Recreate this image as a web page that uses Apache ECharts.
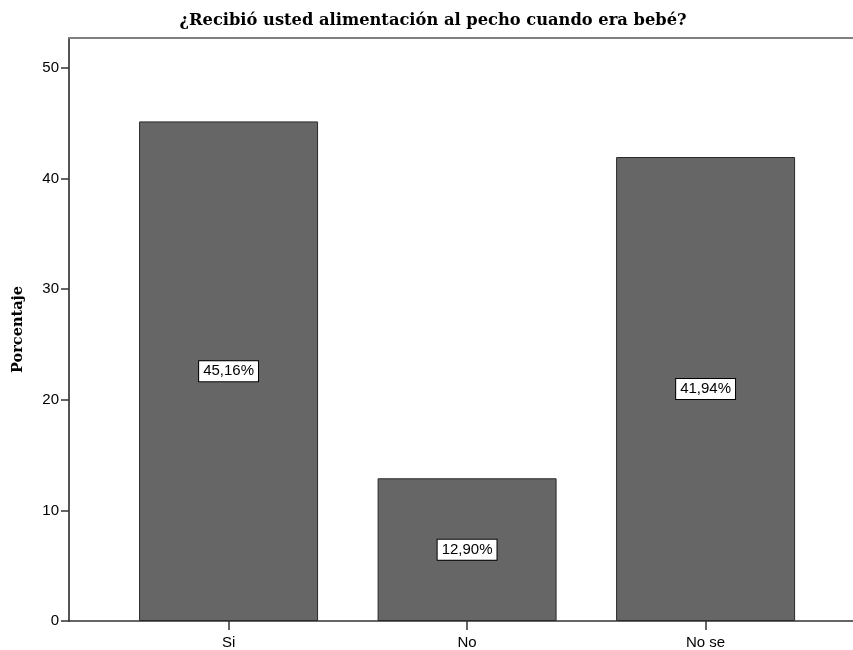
<!DOCTYPE html>
<html><head><meta charset="utf-8">
<script src="https://cdn.jsdelivr.net/npm/echarts@6/dist/echarts.min.js"></script>
<style>html,body{margin:0;padding:0;background:#fff;overflow:hidden}#c{width:853px;height:650px}</style>
</head><body><div id="c"></div>
<script>
const title = "¿Recibió usted alimentación al pecho cuando era bebé?";
const categories = ["Si", "No", "No se"];
const values = [45.16, 12.90, 41.94];
const yTicks = [0, 10, 20, 30, 40, 50];
const yName = "Porcentaje";

const chart = echarts.init(document.getElementById('c'));
const pos = categories.map((c, i) => i + 1);
chart.setOption({
  animation: false,
  title: {text: title, left: 428, textAlign: 'center', top: 8,
    textStyle: {fontFamily: 'DejaVu Serif', fontWeight: 'bold', fontSize: 16.3, color: '#000'}},
  grid: {left: 69, right: 0, top: 38, bottom: 28},
  xAxis: [{type: 'value', min: 0.331, max: 3.618,
    axisLine: {show: true, lineStyle: {color: '#333', width: 1.5}},
    axisTick: {show: true, customValues: pos, length: 9, lineStyle: {color: '#333', width: 1.5}},
    axisLabel: {customValues: pos, formatter: v => categories[Math.round(v) - 1] || '', color: '#000', fontFamily: 'Liberation Sans', fontSize: 15, margin: 14},
    splitLine: {show: false}},
    {type: 'value', position: 'top', min: 0.331, max: 3.618,
    axisLine: {show: true, lineStyle: {color: '#808080', width: 2}},
    axisTick: {show: false}, axisLabel: {show: false}, splitLine: {show: false}}],
  yAxis: {type: 'value', min: 0, max: 52.7, interval: 10, name: yName, nameLocation: 'middle', nameGap: 43,
    nameTextStyle: {fontFamily: 'DejaVu Serif', fontWeight: 'bold', fontSize: 14.5, color: '#000'},
    axisLine: {show: true, lineStyle: {color: '#555', width: 2}},
    axisTick: {show: true, customValues: yTicks, length: 8, lineStyle: {color: '#333', width: 1.5}},
    axisLabel: {customValues: yTicks, color: '#000', fontFamily: 'Liberation Sans', fontSize: 15, margin: 10},
    splitLine: {show: false}},
  series: [{type: 'bar', barWidth: 179, xAxisIndex: 0,
    data: values.map((v, i) => [pos[i], v]),
    itemStyle: {color: '#666666', borderColor: '#2a2a2a', borderWidth: 1},
    label: {show: true, position: 'inside', formatter: p => p.value[1].toFixed(2).replace('.', ',') + '%',
      color: '#000', fontFamily: 'Liberation Sans', fontSize: 15, backgroundColor: '#fff', borderColor: '#000', borderWidth: 1, padding: [3, 4, 2, 4]}}]
});
</script></body></html>
